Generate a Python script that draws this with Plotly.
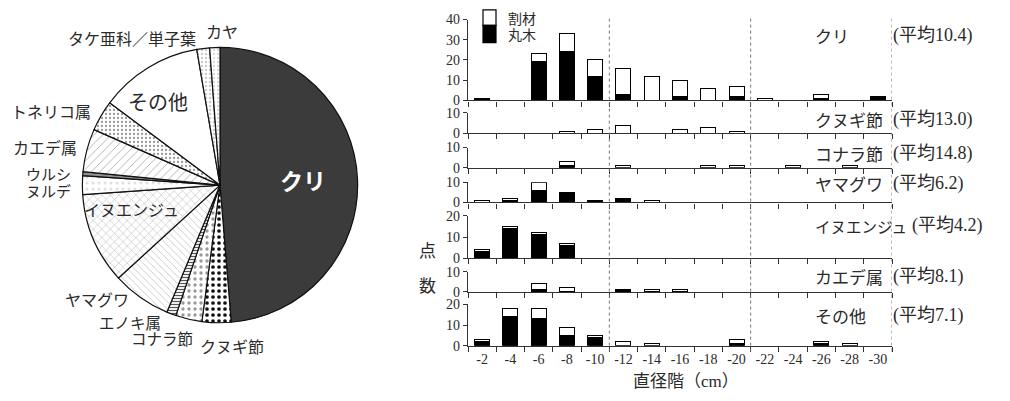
import plotly.graph_objects as go

W, H = 1010, 401

# ---------------- pie data ----------------
pie_labels = ["クリ", "クヌギ節", "コナラ節", "エノキ属", "ヤマグワ", "イヌエンジュ", "ヌルデ",
              "ウルシ", "カエデ属", "トネリコ属", "その他", "タケ亜科／単子葉", "カヤ"]
pie_values = [48.7, 3.4, 3.1, 1.1, 6.9, 10.7, 2.2, 0.45, 5.05, 3.6, 12.1, 1.5, 1.2]

# ---------------- bar data ----------------
classes = ["-2", "-4", "-6", "-8", "-10", "-12", "-14", "-16", "-18", "-20",
           "-22", "-24", "-26", "-28", "-30"]
panel_names = ["クリ", "クヌギ節", "コナラ節", "ヤマグワ", "イヌエンジュ", "カエデ属", "その他"]
panel_means = ["(平均10.4)", "(平均13.0)", "(平均14.8)", "(平均6.2)", "(平均4.2)", "(平均8.1)", "(平均7.1)"]

kuri_maru = [1, 0, 19, 24, 12, 3, 0, 2, 0, 2, 0, 0, 1, 0, 2]
kuri_wari = [0, 0, 4, 9, 8, 13, 12, 8, 6, 5, 1, 0, 2, 0, 0]
kunugi_maru = [0, 0, 0, 0, 0, 0, 0, 0, 0, 0, 0, 0, 0, 0, 0]
kunugi_wari = [0, 0, 0, 1, 2, 4, 0, 2, 3, 1, 0, 0, 0, 0, 0]
konara_maru = [0, 0, 0, 1, 0, 0, 0, 0, 0, 0, 0, 0, 0, 0, 0]
konara_wari = [0, 0, 0, 2, 0, 1, 0, 0, 1, 1, 0, 1, 0, 1, 0]
yamaguwa_maru = [0, 1, 6, 5, 1, 2, 0, 0, 0, 0, 0, 0, 0, 0, 0]
yamaguwa_wari = [1, 1, 4, 0, 0, 0, 1, 0, 0, 0, 0, 0, 0, 0, 0]
inuenju_maru = [3, 14, 11, 6, 0, 0, 0, 0, 0, 0, 0, 0, 0, 0, 0]
inuenju_wari = [1, 1, 1, 1, 0, 0, 0, 0, 0, 0, 0, 0, 0, 0, 0]
kaede_maru = [0, 0, 1, 0, 0, 1, 0, 0, 0, 0, 0, 0, 0, 0, 0]
kaede_wari = [0, 0, 3, 2, 0, 0, 1, 1, 0, 0, 0, 0, 0, 0, 0]
sonota_maru = [2, 14, 13, 5, 4, 0, 0, 0, 0, 1, 0, 0, 1, 0, 0]
sonota_wari = [1, 4, 5, 4, 1, 2, 1, 0, 0, 2, 0, 0, 1, 1, 0]

maru_list = [kuri_maru, kunugi_maru, konara_maru, yamaguwa_maru, inuenju_maru, kaede_maru, sonota_maru]
wari_list = [kuri_wari, kunugi_wari, konara_wari, yamaguwa_wari, inuenju_wari, kaede_wari, sonota_wari]
ymax_list = [40, 10, 10, 10, 20, 10, 20]

# pixel layout of panels: (bottom px, top px)
panel_px = [(97, 13), (131, 110), (167, 146), (203, 182), (261, 217), (296, 275), (352, 309)]
label_py = [30, 117, 152, 183, 227, 280, 320]
name_size = [17, 17, 17, 17, 15.5, 17, 17]
mean_x = [891, 891, 891, 891, 910, 891, 891]

JP = "Noto Sans CJK JP"
SERIF = "Liberation Serif, Noto Sans CJK JP"
TXT = "#2a2a2a"

def px(x):
    return x / W

def py(y):
    return 1 - y / H

def nz(v):
    return [a if a else None for a in v]

fig = go.Figure()

# ---------------- pie ----------------
cx, cy, r = 220, 185, 143
pat_shape = ["", ".", ".", "-", "\\", "x", ".", "-", "/", ".", "", ".", "."]
pat_fg = ["#333", "#111", "#999", "#555", "#aaa", "#999", "#e0e0e0", "#222", "#999", "#999", "#fff", "#ccc", "#ddd"]
pat_size = [8, 6, 6, 3, 5, 6, 6, 2, 6, 4, 8, 4, 4]
pat_sol = [0.3, 0.3, 0.25, 0.4, 0.12, 0.12, 0.2, 0.6, 0.12, 0.25, 0.3, 0.3, 0.3]
colors = ["#3b3b3b"] + ["#ffffff"] * 12
fig.add_trace(go.Pie(
    labels=pie_labels, values=pie_values, sort=False, direction="clockwise", rotation=0,
    textinfo="none", hoverinfo="label+value",
    domain=dict(x=[px(cx - r), px(cx + r)], y=[py(cy + r), py(cy - r)]),
    marker=dict(colors=colors, line=dict(color="#111", width=1.2),
                pattern=dict(shape=pat_shape, fgcolor=pat_fg, bgcolor=colors,
                             size=pat_size, solidity=pat_sol)),
    showlegend=False,
))

# ---------------- bars ----------------
x0p, x1p = 468, 892
for i in range(7):
    s = "" if i == 0 else str(i + 1)
    fig.add_trace(go.Bar(x=classes, y=nz(maru_list[i]), xaxis="x" + s, yaxis="y" + s,
                         marker=dict(color="#000", line=dict(color="#000", width=1)),
                         width=0.53, name="丸木", showlegend=False))
    fig.add_trace(go.Bar(x=classes, y=nz(wari_list[i]), xaxis="x" + s, yaxis="y" + s,
                         marker=dict(color="#fff", line=dict(color="#000", width=1)),
                         width=0.53, name="割材", showlegend=False))
    b, t = panel_px[i]
    fig.layout["xaxis" + s] = dict(
        domain=[px(x0p), px(x1p)], anchor="y" + s, type="category",
        categoryorder="array", categoryarray=classes, range=[-0.5, 14.5],
        tickson="boundaries", ticks="outside", ticklen=5, tickwidth=1, tickcolor="#333",
        showline=True, linecolor="#333", linewidth=1.3, showgrid=False,
        showticklabels=(i == 6), tickangle=0,
        tickfont=dict(family=SERIF, size=14, color=TXT),
    )
    fig.layout["yaxis" + s] = dict(
        domain=[py(b), py(t)], anchor="x" + s, range=[0, ymax_list[i]],
        tickvals=list(range(0, ymax_list[i] + 1, 10)),
        ticks="outside", ticklen=4, tickwidth=1, tickcolor="#333",
        showline=True, linecolor="#333", linewidth=1.3, showgrid=False, zeroline=False,
        tickfont=dict(family=SERIF, size=14, color=TXT),
    )

shapes = []
for xb in [4.5, 9.5, 14.5]:
    shapes.append(dict(type="line", xref="x7", yref="paper", x0=xb, x1=xb,
                       y0=py(358), y1=py(12), line=dict(color="#777", width=1, dash="3px,3px")))
# legend boxes
shapes.append(dict(type="rect", xref="paper", yref="paper", x0=px(483), x1=px(496),
                   y0=py(19), y1=py(3), line=dict(color="#000", width=1.2), fillcolor="#fff"))
shapes.append(dict(type="rect", xref="paper", yref="paper", x0=px(483), x1=px(496),
                   y0=py(37), y1=py(19), line=dict(color="#000", width=1.2), fillcolor="#000"))

ann = []
def add_text(text, x, y, size=15, xanchor="center", family=JP, color=TXT):
    ann.append(dict(text=text, x=px(x), y=py(y), xref="paper", yref="paper",
                    xanchor=xanchor, yanchor="middle", showarrow=False,
                    font=dict(family=family, size=size, color=color)))

add_text("割材", 506, 11, 14, "left")
add_text("丸木", 506, 28, 14, "left")
for i in range(7):
    add_text(panel_names[i], 813, label_py[i], name_size[i], "left")
    add_text(panel_means[i], mean_x[i], label_py[i], 18, "left", SERIF)
add_text("点", 427, 252, 17)
add_text("数", 427, 288, 17)
add_text("直径階（cm）", 686, 389, 17, family=SERIF)

# pie labels
add_text("タケ亜科／単子葉", 198, 32, 16, "right")
add_text("カヤ", 222, 25, 16)
add_text("その他", 158, 98, 20)
add_text("トネリコ属", 93, 108, 16, "right")
add_text("カエデ属", 79, 145, 16, "right")
add_text("ウルシ", 73, 173, 15, "right")
add_text("ヌルデ", 73, 191, 15, "right")
add_text("イヌエンジュ", 131, 210, 16)
add_text("ヤマグワ", 97, 303, 16)
add_text("エノキ属", 130, 327, 15.5)
add_text("コナラ節", 162, 344, 15.5)
add_text("クヌギ節", 232, 352, 16)
ann.append(dict(text="<b>クリ</b>", x=px(278), y=py(180), xref="paper", yref="paper",
                showarrow=False, font=dict(family=JP, size=23, color="#ffffff")))

fig.update_layout(
    width=W, height=H, margin=dict(l=0, r=0, t=0, b=0),
    paper_bgcolor="white", plot_bgcolor="white",
    barmode="stack", bargap=0.47, showlegend=False,
    shapes=shapes, annotations=ann,
)

fig.write_html("out.html", config={"displayModeBar": False},
               post_script="document.body.style.margin='0';")
